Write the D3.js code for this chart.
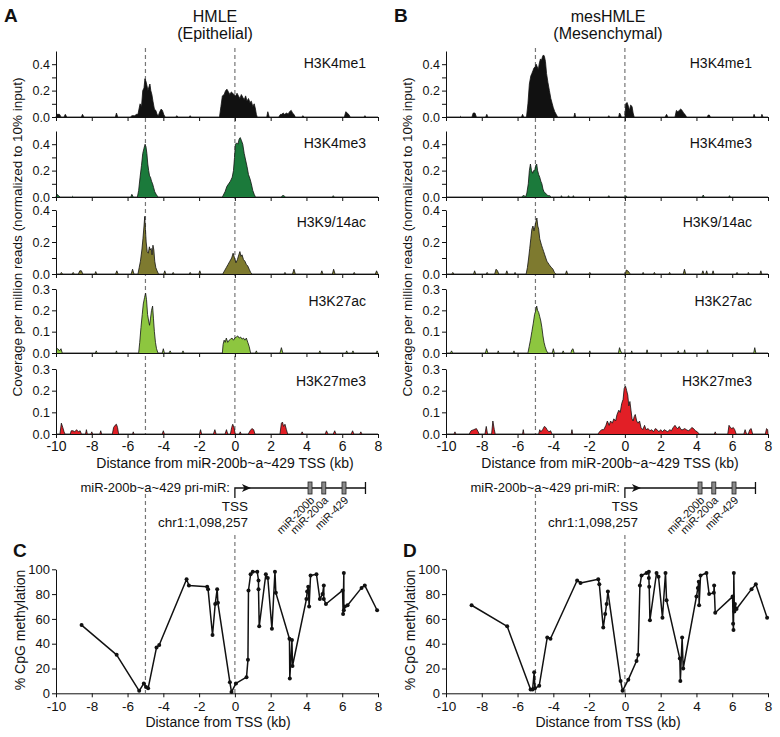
<!DOCTYPE html>
<html><head><meta charset="utf-8">
<script src="https://cdn.jsdelivr.net/npm/d3@7"></script>
<style>body{margin:0;background:#fff} svg{display:block} text{font-family:Arial,"Liberation Sans",Helvetica,sans-serif;fill:#111}</style>
</head><body><svg id="c" width="780" height="737"></svg>
<script>
// ---------------- DATA ----------------
const trackNames = ["H3K4me1","H3K4me3","H3K9/14ac","H3K27ac","H3K27me3"];
const trackColors = ["#111111","#1b7a3b","#7e7a2f","#8dc63f","#e21f26"];
const trackMax = [0.5,0.5,0.4,0.3,0.3];
const trackTickValues = [[0,0.1,0.2,0.3,0.4],[0,0.1,0.2,0.3,0.4],[0,0.1,0.2,0.3,0.4],[0,0.1,0.2,0.3],[0,0.1,0.2,0.3]];
const trackTickLabels = [["0.0","","0.2","","0.4"],["0.0","","0.2","","0.4"],["0.0","","0.2","","0.4"],["0.0","0.1","0.2","0.3"],["0.0","0.1","0.2","0.3"]];
const xTicks = [-10,-8,-6,-4,-2,0,2,4,6,8];
const markerLines = [-5,0];

// HMLE (epithelial) ChIP-seq coverage [kb, value]
const hmle_H3K4me1 = [[-10,0],[-9.95,0.02],[-9.8,0.02],[-9.72,0],[-9.55,0],[-9.48,0.02],[-9.4,0],[-8.58,0],[-8.52,0.02],[-8.44,0],[-6.68,0],[-6.62,0.03],[-6.55,0],[-5.85,0],[-5.75,0.01],[-5.6,0.01],[-5.5,0.02],[-5.42,0.02],[-5.3,0.1],[-5.22,0.08],[-5.15,0.2],[-5.08,0.22],[-5.03,0.29],[-4.97,0.27],[-4.92,0.24],[-4.86,0.2],[-4.8,0.23],[-4.75,0.25],[-4.7,0.2],[-4.64,0.17],[-4.58,0.12],[-4.5,0.06],[-4.42,0.05],[-4.35,0.02],[-4.28,0.01],[-4.2,0.04],[-4.12,0.06],[-4.05,0.05],[-3.98,0.02],[-3.9,0],[-3.3,0],[-3.25,0.01],[-3.18,0],[-2.55,0],[-2.5,0.01],[-2.45,0],[-0.86,0],[-0.78,0.08],[-0.7,0.16],[-0.6,0.17],[-0.52,0.2],[-0.44,0.21],[-0.36,0.19],[-0.28,0.17],[-0.2,0.19],[-0.12,0.18],[-0.05,0.17],[0.04,0.16],[0.12,0.18],[0.2,0.16],[0.28,0.14],[0.36,0.17],[0.44,0.15],[0.52,0.13],[0.6,0.16],[0.68,0.12],[0.76,0.14],[0.84,0.11],[0.92,0.12],[1.0,0.08],[1.08,0.1],[1.15,0.06],[1.2,0.02],[1.25,0],[1.78,0],[1.84,0.04],[1.92,0],[2.45,0],[2.55,0.02],[2.62,0.02],[2.7,0.03],[2.78,0.02],[2.9,0.03],[2.98,0.02],[3.05,0.04],[3.15,0.05],[3.22,0.03],[3.3,0.02],[3.38,0],[3.75,0],[3.8,0.01],[3.86,0],[6.12,0],[6.2,0.04],[6.28,0.03],[6.36,0.02],[6.45,0],[7.22,0],[7.27,0.01],[7.32,0],[8,0]];
const hmle_H3K4me3 = [[-10,0],[-9.95,0.02],[-9.85,0.01],[-9.78,0],[-9.12,0],[-9.08,0.005],[-9.02,0],[-5.82,0],[-5.76,0.02],[-5.68,0],[-5.45,0],[-5.38,0.05],[-5.3,0.15],[-5.22,0.24],[-5.15,0.33],[-5.08,0.37],[-5.02,0.4],[-4.97,0.38],[-4.92,0.33],[-4.87,0.25],[-4.82,0.2],[-4.77,0.16],[-4.72,0.15],[-4.66,0.12],[-4.6,0.1],[-4.54,0.07],[-4.48,0.04],[-4.4,0.02],[-4.3,0],[-0.7,0],[-0.55,0.04],[-0.45,0.08],[-0.35,0.1],[-0.25,0.12],[-0.15,0.15],[-0.08,0.2],[-0.02,0.3],[0.03,0.4],[0.1,0.41],[0.17,0.4],[0.24,0.44],[0.3,0.45],[0.36,0.43],[0.44,0.4],[0.52,0.33],[0.6,0.28],[0.68,0.23],[0.76,0.17],[0.84,0.14],[0.92,0.1],[1.0,0.05],[1.08,0.02],[1.15,0],[2.6,0],[2.65,0.01],[2.75,0.01],[2.82,0],[5.45,0],[5.5,0.01],[5.56,0],[8,0]];
const hmle_H3K9ac = [[-10,0],[-9.75,0],[-9.7,0.01],[-9.63,0],[-9.1,0],[-9.04,0.01],[-8.98,0],[-8.75,0],[-8.67,0.02],[-8.58,0.02],[-8.5,0],[-7.83,0],[-7.78,0.015],[-7.72,0],[-6.67,0],[-6.6,0.02],[-6.53,0],[-5.8,0],[-5.72,0.03],[-5.64,0],[-5.42,0],[-5.35,0.04],[-5.28,0.08],[-5.2,0.15],[-5.14,0.22],[-5.08,0.3],[-5.04,0.36],[-5.0,0.28],[-4.96,0.2],[-4.9,0.14],[-4.84,0.13],[-4.78,0.17],[-4.74,0.15],[-4.68,0.16],[-4.63,0.12],[-4.58,0.18],[-4.53,0.15],[-4.48,0.08],[-4.42,0.04],[-4.35,0.02],[-4.27,0],[-3.98,0],[-3.92,0.02],[-3.86,0],[-3.5,0],[-3.45,0.01],[-3.4,0],[-2.55,0],[-2.5,0.01],[-2.45,0],[-2.02,0],[-1.96,0.02],[-1.9,0],[-0.68,0],[-0.58,0.02],[-0.48,0.04],[-0.38,0.06],[-0.28,0.08],[-0.18,0.1],[-0.1,0.13],[-0.02,0.1],[0.06,0.07],[0.14,0.09],[0.22,0.12],[0.28,0.14],[0.34,0.11],[0.4,0.12],[0.48,0.09],[0.56,0.08],[0.64,0.06],[0.72,0.05],[0.8,0.03],[0.88,0.01],[0.95,0],[2.75,0],[2.8,0.01],[2.85,0],[3.22,0],[3.3,0.03],[3.38,0],[4.8,0],[4.86,0.02],[4.92,0],[5.45,0],[5.52,0.03],[5.6,0],[6.62,0],[6.67,0.01],[6.72,0],[7.85,0],[7.92,0.02],[8,0]];
const hmle_H3K27ac = [[-10,0.02],[-9.9,0.02],[-9.8,0.01],[-9.72,0.02],[-9.65,0],[-7.8,0],[-7.75,0.01],[-7.7,0],[-6.66,0],[-6.62,0.01],[-6.58,0],[-5.38,0],[-5.32,0.05],[-5.25,0.12],[-5.18,0.18],[-5.12,0.23],[-5.05,0.26],[-4.99,0.28],[-4.94,0.25],[-4.88,0.18],[-4.82,0.15],[-4.77,0.13],[-4.72,0.16],[-4.66,0.2],[-4.6,0.22],[-4.55,0.16],[-4.5,0.1],[-4.44,0.05],[-4.38,0.02],[-4.3,0],[-4.06,0],[-4.0,0.02],[-3.94,0],[-3.68,0],[-3.62,0.01],[-3.56,0],[-2.95,0],[-2.9,0.01],[-2.85,0],[-0.7,0],[-0.66,0.04],[-0.6,0.06],[-0.54,0.05],[-0.48,0.07],[-0.4,0.05],[-0.32,0.06],[-0.24,0.065],[-0.16,0.07],[-0.08,0.06],[0,0.07],[0.08,0.075],[0.16,0.08],[0.24,0.07],[0.32,0.075],[0.4,0.065],[0.48,0.07],[0.56,0.06],[0.64,0.07],[0.72,0.05],[0.8,0.03],[0.88,0],[1.15,0],[1.2,0.01],[1.25,0],[2.52,0],[2.6,0.025],[2.68,0],[4.7,0],[4.75,0.01],[4.8,0],[6.2,0],[6.25,0.01],[6.3,0],[6.55,0],[6.6,0.01],[6.65,0],[7.9,0],[7.95,0.01],[8,0]];
const hmle_H3K27me3 = [[-10,0],[-9.78,0],[-9.7,0.05],[-9.62,0.03],[-9.55,0.01],[-9.5,0],[-9.2,0],[-9.15,0.015],[-9.05,0.015],[-8.95,0.01],[-8.85,0.02],[-8.75,0.01],[-8.65,0.015],[-8.58,0],[-8.35,0],[-8.3,0.02],[-8.25,0],[-8.05,0],[-8.0,0.01],[-7.95,0],[-7.55,0],[-7.5,0.015],[-7.45,0],[-6.85,0],[-6.78,0.03],[-6.7,0.04],[-6.62,0.045],[-6.56,0.03],[-6.5,0],[-5.72,0],[-5.68,0.01],[-5.64,0],[-4.06,0],[-4.0,0.015],[-3.94,0],[-1.98,0],[-1.92,0.02],[-1.86,0],[-1.2,0],[-1.12,0.02],[-1.05,0],[-0.55,0],[-0.47,0.02],[-0.4,0],[-0.25,0],[-0.18,0.03],[-0.12,0.045],[-0.05,0.03],[0.02,0],[0.25,0],[0.3,0.01],[0.35,0],[0.75,0],[0.85,0.015],[0.95,0.025],[1.05,0.02],[1.12,0],[2.52,0],[2.6,0.05],[2.66,0.055],[2.72,0.035],[2.8,0.045],[2.88,0.02],[2.95,0],[3.7,0],[3.76,0.01],[3.82,0],[5.05,0],[5.12,0.015],[5.2,0],[5.5,0],[5.58,0.015],[5.65,0],[6.5,0],[6.58,0.015],[6.65,0],[6.98,0],[7.04,0.01],[7.1,0],[8,0]];

// mesHMLE (mesenchymal) ChIP-seq coverage [kb, value]
const mes_H3K4me1 = [[-10,0],[-9.22,0],[-9.18,0.005],[-9.14,0],[-8.55,0],[-8.48,0.03],[-8.38,0.03],[-8.3,0],[-7.78,0],[-7.72,0.02],[-7.66,0],[-5.78,0],[-5.72,0.02],[-5.66,0],[-5.5,0],[-5.42,0.1],[-5.34,0.25],[-5.26,0.31],[-5.2,0.33],[-5.14,0.35],[-5.09,0.37],[-5.02,0.38],[-4.96,0.4],[-4.9,0.38],[-4.84,0.36],[-4.78,0.41],[-4.72,0.44],[-4.66,0.43],[-4.6,0.46],[-4.55,0.47],[-4.5,0.46],[-4.44,0.42],[-4.38,0.33],[-4.3,0.26],[-4.22,0.2],[-4.14,0.14],[-4.06,0.1],[-4.0,0.07],[-3.92,0.04],[-3.84,0.02],[-3.76,0],[-2.85,0],[-2.8,0.03],[-2.75,0],[-0.95,0],[-0.9,0.01],[-0.85,0],[-0.35,0],[-0.3,0.03],[-0.25,0.02],[-0.2,0],[0,0],[0.05,0.1],[0.12,0.11],[0.2,0.08],[0.26,0.05],[0.32,0.09],[0.4,0.08],[0.46,0.03],[0.52,0],[2.25,0],[2.33,0.02],[2.4,0],[2.8,0],[2.88,0.05],[2.96,0.04],[3.04,0.05],[3.12,0.06],[3.2,0.05],[3.28,0.03],[3.36,0.02],[3.45,0],[4.6,0],[4.66,0.015],[4.72,0.015],[4.78,0],[7.18,0],[7.22,0.02],[7.28,0],[7.62,0],[7.66,0.02],[7.72,0],[8,0]];
const mes_H3K4me3 = [[-10,0],[-5.75,0],[-5.7,0.01],[-5.62,0.01],[-5.55,0],[-5.48,0.03],[-5.4,0.1],[-5.34,0.2],[-5.28,0.25],[-5.22,0.2],[-5.16,0.18],[-5.1,0.2],[-5.04,0.2],[-4.98,0.24],[-4.93,0.25],[-4.88,0.2],[-4.82,0.17],[-4.76,0.15],[-4.7,0.12],[-4.64,0.1],[-4.58,0.06],[-4.52,0.04],[-4.45,0.03],[-4.38,0.02],[-4.3,0.01],[-4.2,0.01],[-4.12,0],[-3.58,0],[-3.55,0.01],[-3.5,0],[-3.2,0],[-3.15,0.01],[-3.1,0],[-2.92,0],[-2.88,0.01],[-2.84,0],[-0.95,0],[-0.9,0.01],[-0.85,0],[0,0],[0.05,0.01],[0.12,0],[4.32,0],[4.38,0.015],[4.44,0],[5.8,0],[5.85,0.01],[5.9,0],[8,0]];
const mes_H3K9ac = [[-10,0],[-9.68,0],[-9.62,0.01],[-9.56,0],[-8.46,0],[-8.4,0.02],[-8.34,0],[-7.75,0],[-7.7,0.01],[-7.65,0],[-7.28,0],[-7.2,0.03],[-7.12,0.02],[-7.05,0],[-6.66,0],[-6.6,0.02],[-6.54,0],[-6.18,0],[-6.14,0.01],[-6.1,0],[-5.52,0],[-5.45,0.04],[-5.38,0.1],[-5.32,0.16],[-5.26,0.22],[-5.2,0.28],[-5.14,0.3],[-5.08,0.27],[-5.02,0.3],[-4.97,0.33],[-4.92,0.35],[-4.87,0.3],[-4.82,0.28],[-4.76,0.22],[-4.71,0.2],[-4.66,0.18],[-4.6,0.16],[-4.54,0.14],[-4.48,0.12],[-4.42,0.1],[-4.36,0.08],[-4.3,0.07],[-4.24,0.06],[-4.18,0.05],[-4.1,0.04],[-4.02,0.03],[-3.94,0.01],[-3.86,0],[-3.32,0],[-3.26,0.02],[-3.2,0],[-2.02,0],[-1.96,0.01],[-1.9,0],[0.02,0],[0.08,0.025],[0.16,0.02],[0.24,0.01],[0.3,0],[0.98,0],[1.02,0.01],[1.06,0],[1.6,0],[1.65,0.01],[1.7,0],[2.45,0],[2.5,0.01],[2.55,0],[3.26,0],[3.33,0.03],[3.4,0],[4.3,0],[4.36,0.02],[4.42,0],[4.52,0],[4.57,0.02],[4.62,0],[4.88,0],[4.93,0.02],[4.98,0],[6.22,0],[6.27,0.01],[6.32,0],[6.87,0],[6.9,0.01],[6.95,0],[7.55,0],[7.6,0.02],[7.65,0],[8,0]];
const mes_H3K27ac = [[-10,0],[-9.75,0],[-9.69,0.01],[-9.63,0],[-7.8,0],[-7.73,0.02],[-7.66,0],[-7.12,0],[-7.08,0.01],[-7.04,0],[-6.24,0],[-6.2,0.01],[-6.16,0],[-5.42,0],[-5.35,0.03],[-5.28,0.06],[-5.2,0.1],[-5.12,0.14],[-5.05,0.18],[-4.98,0.2],[-4.93,0.22],[-4.88,0.2],[-4.82,0.19],[-4.76,0.17],[-4.7,0.15],[-4.64,0.12],[-4.58,0.08],[-4.52,0.05],[-4.46,0.03],[-4.38,0.01],[-4.3,0],[-4.06,0],[-4.0,0.02],[-3.94,0],[-3.5,0],[-3.45,0.01],[-3.4,0],[-3.02,0],[-2.97,0.015],[-2.9,0.02],[-2.84,0],[-2.0,0],[-1.96,0.01],[-1.92,0],[-0.36,0],[-0.3,0.025],[-0.24,0.01],[-0.18,0],[0.35,0],[0.38,0.01],[0.42,0],[1.2,0],[1.24,0.015],[1.28,0],[2.94,0],[2.98,0.01],[3.02,0],[3.3,0],[3.34,0.015],[3.38,0],[4.58,0],[4.62,0.015],[4.66,0],[7.2,0],[7.26,0.025],[7.32,0],[8,0]];
const mes_H3K27me3 = [[-10,0],[-9.55,0],[-9.5,0.01],[-9.45,0],[-8.7,0],[-8.6,0.015],[-8.45,0.02],[-8.3,0.025],[-8.2,0.01],[-8.15,0],[-7.82,0],[-7.75,0.035],[-7.68,0],[-7.45,0],[-7.38,0.06],[-7.3,0.02],[-7.25,0],[-5.72,0],[-5.68,0.02],[-5.64,0],[-4.82,0],[-4.76,0.02],[-4.7,0.01],[-4.6,0.02],[-4.5,0.035],[-4.42,0.03],[-4.35,0.02],[-4.25,0.01],[-4.15,0.015],[-4.08,0],[-3.0,0],[-2.96,0.02],[-2.92,0],[-1.5,0],[-1.42,0.01],[-1.3,0.02],[-1.18,0.02],[-1.06,0.04],[-0.98,0.06],[-0.88,0.04],[-0.8,0.06],[-0.7,0.05],[-0.62,0.07],[-0.52,0.06],[-0.44,0.09],[-0.34,0.11],[-0.26,0.1],[-0.18,0.14],[-0.1,0.16],[-0.04,0.21],[0.04,0.22],[0.1,0.2],[0.16,0.18],[0.22,0.13],[0.28,0.15],[0.34,0.11],[0.4,0.07],[0.46,0.06],[0.52,0.08],[0.58,0.09],[0.66,0.06],[0.74,0.05],[0.82,0.06],[0.9,0.03],[1.0,0.02],[1.1,0.04],[1.18,0.02],[1.3,0.025],[1.4,0.015],[1.5,0.02],[1.6,0.01],[1.7,0.025],[1.8,0.02],[1.9,0.01],[2.0,0.02],[2.1,0.01],[2.2,0.02],[2.3,0.015],[2.4,0.01],[2.5,0.02],[2.6,0.015],[2.7,0.03],[2.8,0.04],[2.88,0.03],[2.96,0.025],[3.04,0.035],[3.14,0.02],[3.24,0.02],[3.34,0.025],[3.44,0.02],[3.54,0.015],[3.64,0.02],[3.74,0.03],[3.84,0.025],[3.94,0.015],[4.05,0.01],[4.15,0],[5.0,0],[5.05,0.01],[5.1,0],[5.75,0],[5.82,0.04],[5.9,0.03],[5.98,0.025],[6.06,0.03],[6.14,0.02],[6.22,0],[6.65,0],[6.72,0.02],[6.8,0],[6.9,0],[6.98,0.02],[7.06,0.025],[7.14,0],[7.85,0],[7.92,0.025],[7.98,0.02],[8,0]];

// CpG methylation [kb, %]
const hmle_CpG = [[-8.57,55],[-6.61,31],[-5.35,2],[-5.09,8],[-4.97,5],[-4.85,4],[-4.38,37],[-4.23,39],[-2.70,92],[-2.57,87],[-1.55,86],[-1.50,84],[-1.25,47],[-1.10,72],[-0.99,84],[-0.95,73],[-0.28,9],[-0.19,1],[0.06,8],[0.65,13],[0.73,27],[0.76,83],[0.88,96],[1.0,98],[1.25,98],[1.32,91],[1.32,84],[1.36,54],[1.73,96],[1.84,93],[2.07,52],[2.24,98],[2.29,81],[3.05,44],[3.07,12],[3.19,43],[3.22,22],[4.0,76],[4.04,82],[4.10,86],[4.15,70],[4.23,95],[4.56,96],[4.75,76],[4.90,80],[4.97,87],[4.97,76],[5.09,72],[6.02,83],[6.05,64],[6.09,97],[6.09,67],[6.15,70],[6.3,71],[7.08,85],[7.26,87],[7.95,67]];
const mes_CpG = [[-8.57,71],[-6.58,54],[-5.27,3],[-5.16,3],[-5.07,17],[-5.03,4],[-4.79,6],[-4.34,45],[-4.16,44],[-2.67,91],[-2.48,89],[-1.49,92],[-1.43,88],[-1.21,53],[-1.10,64],[-1.02,72],[-0.95,82],[-0.24,10],[-0.13,2],[0.19,11],[0.65,26],[0.74,31],[0.84,87],[0.93,95],[1.21,97],[1.34,98],[1.34,93],[1.36,86],[1.40,59],[1.77,97],[1.88,94],[2.10,61],[2.27,97],[2.33,75],[3.07,28],[3.10,10],[3.20,45],[3.26,20],[4.0,78],[4.08,85],[4.13,90],[4.15,71],[4.23,95],[4.56,97],[4.71,80],[4.97,81],[4.99,87],[5.05,65],[6.02,78],[6.05,56],[6.07,51],[6.09,97],[6.12,66],[6.15,72],[6.24,68],[7.08,84],[7.32,88],[7.95,61]];
const cpgTicks = [0,20,40,60,80,100];

// gene model (kb)
const geneEnd = 7.3;
const mirNames = ["miR-200b","miR-200a","miR-429"];
const mirPos = [4.2,4.97,6.1];

// ---------------- DRAW ----------------
const svg = d3.select("#c");
const FONT = 'Arial,"Liberation Sans",Helvetica,sans-serif';

const trackBase = [117,197,274,353,434];
const trackTop  = [51,131,210,289,369];

function panel(ox, tracks, cpg, title1, title2, L1, L2, labelRight, xtitleC, ctitleC){
  const g = svg.append("g").attr("transform",`translate(${ox},0)`);
  const x = d3.scaleLinear().domain([-10,8]).range([56,378]);

  g.append("text").attr("x",4).attr("y",22).attr("font-size",19).attr("font-weight","bold").text(L1);
  g.append("text").attr("x",xtitleC).attr("y",22).attr("text-anchor","middle").attr("font-size",16).text(title1);
  g.append("text").attr("x",xtitleC).attr("y",39).attr("text-anchor","middle").attr("font-size",16).text(title2);

  // dashed markers (top)
  markerLines.forEach(k=>{
    g.append("line").attr("x1",x(k)).attr("x2",x(k)).attr("y1",48).attr("y2",434)
      .attr("stroke","#777").attr("stroke-width",1.2).attr("stroke-dasharray","4,3");
  });

  tracks.forEach((data,i)=>{
    const y = d3.scaleLinear().domain([0,trackMax[i]]).range([trackBase[i],trackTop[i]]);
    const area = d3.area().x(d=>x(d[0])).y0(y(0)).y1(d=>y(d[1]));
    const line = d3.line().x(d=>x(d[0])).y(d=>y(d[1]));
    g.append("path").datum(data).attr("d",area).attr("fill",trackColors[i]);
    g.append("path").datum(data).attr("d",line).attr("fill","none").attr("stroke","#111").attr("stroke-width",0.8);
    const ya = d3.axisLeft(y).tickValues(trackTickValues[i]).tickFormat((d,j)=>trackTickLabels[i][j]).tickSize(4).tickPadding(2).tickSizeOuter(0);
    const yg = g.append("g").attr("transform","translate(56,0)").call(ya);
    yg.selectAll("text").attr("font-size",12.5).attr("font-family",FONT).attr("fill","#111");
    yg.selectAll("line,path").attr("stroke","#111");
    const xa = d3.axisBottom(x).tickValues(xTicks).tickSize(4).tickPadding(3).tickSizeOuter(0)
      .tickFormat(i===4 ? (d=>String(d)) : ()=> "");
    const xg = g.append("g").attr("transform",`translate(0,${trackBase[i]})`).call(xa);
    xg.selectAll("text").attr("font-size",14).attr("font-family",FONT).attr("fill","#111");
    xg.selectAll("line,path").attr("stroke","#111");
    g.append("text").attr("x",labelRight).attr("y",trackTop[i]+17).attr("text-anchor","end").attr("font-size",14).text(trackNames[i]);
  });

  g.append("text").attr("transform","translate(22,237) rotate(-90)").attr("text-anchor","middle").attr("font-size",13.5)
    .text("Coverage per million reads (normalized to 10% input)");
  g.append("text").attr("x",ctitleC).attr("y",468).attr("text-anchor","middle").attr("font-size",14)
    .text("Distance from miR-200b~a~429 TSS (kb)");

  // gene model
  const gy = 488;
  g.append("text").attr("x",230).attr("y",gy+4).attr("text-anchor","end").attr("font-size",13).text("miR-200b~a~429 pri-miR:");
  g.append("path").attr("d",`M${x(0)},${gy+10}V${gy}H${x(geneEnd)}`).attr("fill","none").attr("stroke","#111").attr("stroke-width",1.3);
  g.append("path").attr("d",`M${x(0)+7},${gy-4}L${x(0)+16},${gy}L${x(0)+7},${gy+4}L${x(0)+9.5},${gy}Z`).attr("fill","#111");
  g.append("line").attr("x1",x(geneEnd)).attr("x2",x(geneEnd)).attr("y1",gy-6).attr("y2",gy+6).attr("stroke","#111").attr("stroke-width",1.3);
  mirPos.forEach((k,j)=>{
    g.append("rect").attr("x",x(k)-2).attr("y",gy-6).attr("width",4).attr("height",12).attr("fill","#8a8a8a").attr("stroke","#222").attr("stroke-width",0.8);
    g.append("text").attr("transform",`translate(${x(k)+5},${gy+13}) rotate(-45)`).attr("text-anchor","end").attr("font-size",11).text(mirNames[j]);
  });
  g.append("text").attr("x",248).attr("y",511).attr("text-anchor","end").attr("font-size",13.5).text("TSS");
  g.append("text").attr("x",248).attr("y",527).attr("text-anchor","end").attr("font-size",13.5).text("chr1:1,098,257");

  // dashed markers (bottom)
  g.append("line").attr("x1",x(-5)).attr("x2",x(-5)).attr("y1",494).attr("y2",693)
    .attr("stroke","#777").attr("stroke-width",1.2).attr("stroke-dasharray","4,3");
  g.append("line").attr("x1",x(0)).attr("x2",x(0)).attr("y1",535).attr("y2",693)
    .attr("stroke","#777").attr("stroke-width",1.2).attr("stroke-dasharray","4,3");

  // methylation panel
  g.append("text").attr("x",13).attr("y",557).attr("font-size",19).attr("font-weight","bold").text(L2);
  const ym = d3.scaleLinear().domain([0,100]).range([693.3,569.3]);
  const ya2 = d3.axisLeft(ym).tickValues(cpgTicks).tickSize(4).tickPadding(2).tickSizeOuter(0);
  const yg2 = g.append("g").attr("transform","translate(56,0)").call(ya2);
  yg2.selectAll("text").attr("font-size",13).attr("font-family",FONT).attr("fill","#111");
  yg2.selectAll("line,path").attr("stroke","#111");
  const xa2 = d3.axisBottom(x).tickValues(xTicks).tickSize(4).tickPadding(4).tickSizeOuter(0).tickFormat(d=>String(d));
  const xg2 = g.append("g").attr("transform","translate(0,693.3)").call(xa2);
  xg2.selectAll("text").attr("font-size",13.5).attr("font-family",FONT).attr("fill","#111");
  xg2.selectAll("line,path").attr("stroke","#111");
  g.append("path").datum(cpg).attr("d",d3.line().x(d=>x(d[0])).y(d=>ym(d[1])))
    .attr("fill","none").attr("stroke","#111").attr("stroke-width",1.5).attr("stroke-linejoin","round");
  g.selectAll("circle.cpg").data(cpg).join("circle").attr("class","cpg")
    .attr("cx",d=>x(d[0])).attr("cy",d=>ym(d[1])).attr("r",2).attr("fill","#111");
  g.append("text").attr("transform","translate(25,630) rotate(-90)").attr("text-anchor","middle").attr("font-size",14).text("% CpG methylation");
  g.append("text").attr("x",218).attr("y",727).attr("text-anchor","middle").attr("font-size",14).text("Distance from TSS (kb)");
}

panel(0,[hmle_H3K4me1,hmle_H3K4me3,hmle_H3K9ac,hmle_H3K27ac,hmle_H3K27me3],hmle_CpG,"HMLE","(Epithelial)","A","C",366,215,225);
panel(390,[mes_H3K4me1,mes_H3K4me3,mes_H3K9ac,mes_H3K27ac,mes_H3K27me3],mes_CpG,"mesHMLE","(Mesenchymal)","B","D",362,218,220);
</script></body></html>
